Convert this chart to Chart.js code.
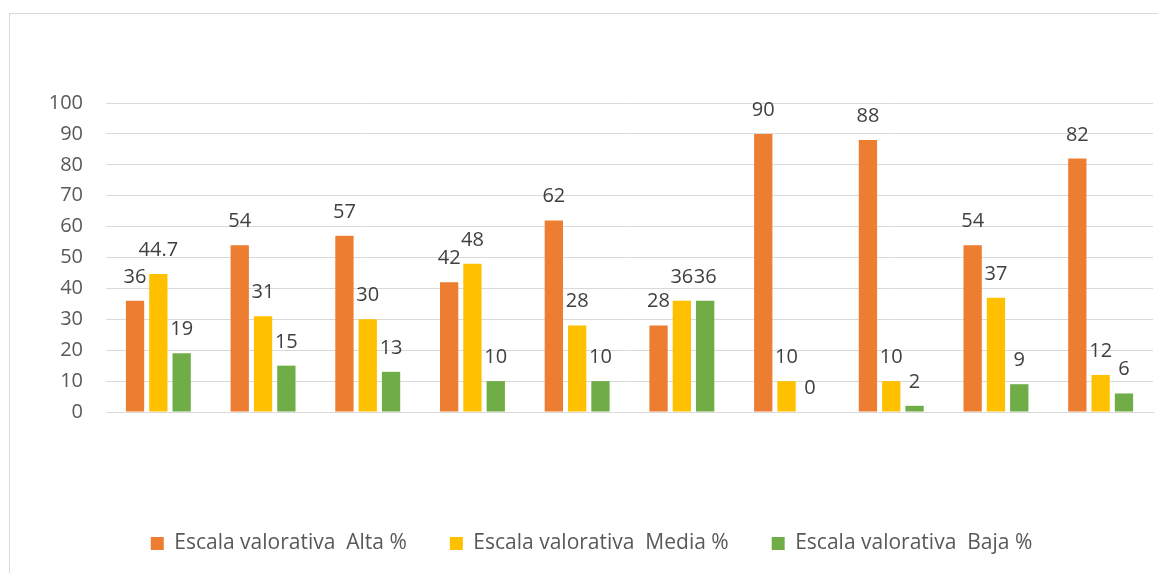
<!DOCTYPE html>
<html>
<head>
<meta charset="utf-8">
<script src="https://cdn.jsdelivr.net/npm/chart.js@4"></script>
<style>
html,body{margin:0;padding:0;background:#fff;}
#wrap{position:relative;width:1158px;height:573px;}
</style>
</head>
<body>
<div id="wrap"><canvas id="c" width="1158" height="573"></canvas></div>
<script>
const categories = ['', '', '', '', '', '', '', '', '', ''];
const seriesNames = ['Escala valorativa  Alta %', 'Escala valorativa  Media %', 'Escala valorativa  Baja %'];
const alta  = [36, 54, 57, 42, 62, 28, 90, 88, 54, 82];
const media = [44.7, 31, 30, 48, 28, 36, 10, 10, 37, 12];
const baja  = [19, 15, 13, 10, 10, 36, 0, 2, 9, 6];
const yTicks = [0, 10, 20, 30, 40, 50, 60, 70, 80, 90, 100];

const colors = ['#ED7D31', '#FFC000', '#70AD47'];
const FONT = '"Open Sans", Lato, sans-serif';

const frame = {
  id: 'frame',
  beforeDraw(chart) {
    const ctx = chart.ctx;
    ctx.save();
    ctx.fillStyle = '#fff';
    ctx.fillRect(0, 0, chart.width, chart.height);
    ctx.strokeStyle = '#D9D9D9';
    ctx.lineWidth = 1;
    ctx.strokeRect(9.5, 13.5, 1300, 700);
    ctx.restore();
  }
};

const labelsPlugin = {
  id: 'valueLabels',
  afterDatasetsDraw(chart) {
    const ctx = chart.ctx;
    ctx.save();
    ctx.font = '20px ' + FONT;
    ctx.fillStyle = '#404040';
    ctx.textAlign = 'center';
    ctx.textBaseline = 'alphabetic';
    chart.data.datasets.forEach((ds, di) => {
      const meta = chart.getDatasetMeta(di);
      meta.data.forEach((el, i) => {
        ctx.fillText(String(ds.data[i]), el.x, el.y - 18);
      });
    });
    ctx.restore();
  }
};

new Chart(document.getElementById('c'), {
  type: 'bar',
  data: {
    labels: categories,
    datasets: [
      { label: seriesNames[0], data: alta,  backgroundColor: colors[0] },
      { label: seriesNames[1], data: media, backgroundColor: colors[1] },
      { label: seriesNames[2], data: baja,  backgroundColor: colors[2] }
    ]
  },
  options: {
    responsive: false,
    animation: false,
    devicePixelRatio: 1,
    datasets: { bar: { categoryPercentage: 0.668, barPercentage: 0.785 } },
    layout: { padding: { left: 30, right: 5, top: 103, bottom: 9 } },
    scales: {
      x: {
        grid: { display: false, drawTicks: false },
        border: { color: '#D9D9D9' },
        ticks: { display: false },
        afterFit: s => { s.height = 78; }
      },
      y: {
        min: 0, max: 100,
        afterBuildTicks: s => { s.ticks = yTicks.map(v => ({ value: v })); },
        afterFit: s => { s.width = 76; },
        grid: { color: '#D9D9D9', lineWidth: 1, drawTicks: false },
        border: { display: false },
        ticks: { padding: 23, color: '#595959', font: { family: FONT, size: 20 } }
      }
    },
    plugins: {
      tooltip: { enabled: false },
      legend: {
        position: 'bottom',
        labels: {
          boxWidth: 13, boxHeight: 13, padding: 43,
          color: '#595959',
          font: { family: FONT, size: 21 }
        }
      }
    }
  },
  plugins: [frame, labelsPlugin]
});
</script>
</body>
</html>
